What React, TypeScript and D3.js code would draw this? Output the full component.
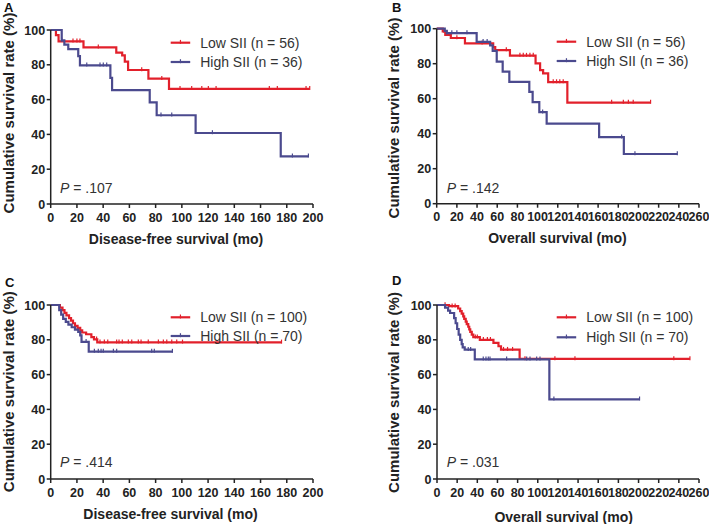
import React from 'react';
import * as d3 from 'd3';

// ---------- DATA ----------
const yTicks = [0, 20, 40, 60, 80, 100];
const xTicks200 = [0, 20, 40, 60, 80, 100, 120, 140, 160, 180, 200];
const xTicks260 = [0, 20, 40, 60, 80, 100, 120, 140, 160, 180, 200, 220, 240, 260];

// Panel A: disease-free survival, cohort 1
const aLowT = [4, 6, 25, 50, 54.5, 56.5, 59, 74.5, 90.2];
const aLowS = [97, 93.5, 90, 87, 85.4, 81.8, 77, 72, 66.2];
const aLowEnd = 197.5;
const aLowCens = [17, 20, 22.3, 36.3, 69.4, 84.7, 98.6, 107.5, 115.2, 120.2, 126.1, 166.7, 172.8, 194.7, 197.5];
const aHighT = [8.4, 10.4, 13.4, 21, 22.3, 45.5, 46.8, 75.5, 80.8, 110.5, 175.4];
const aHighS = [94, 91.6, 89, 85, 79.7, 72.5, 65.5, 58.4, 51, 40.8, 27.4];
const aHighEnd = 196.5;
const aHighCens = [8.4, 27.5, 37.6, 40.1, 42.7, 84.1, 92.3, 123.3, 184.3, 196.5];

// Panel B: overall survival, cohort 1
const bLowT = [6, 8.5, 14, 28, 56, 58, 72.6, 98, 102.5, 105.5, 110.5, 129.5];
const bLowS = [98.4, 96.5, 94.7, 91.6, 89.5, 87.8, 84.6, 80.2, 76.3, 74.5, 69.5, 57.8];
const bLowEnd = 212;
const bLowCens = [7, 12, 20, 45, 69, 82.5, 85.8, 89, 92.4, 95.7, 115.5, 118.8, 122, 125.4, 173.4, 185, 190, 194.8, 212];
const bHighT = [8, 10, 39.6, 53, 55.5, 59.5, 65.4, 72, 91.8, 95.1, 101.7, 109, 161, 185.5];
const bHighS = [98.8, 97.5, 92.5, 90.5, 87.3, 81.2, 75.5, 69.6, 63.9, 58.1, 52.3, 45.8, 38, 28.4];
const bHighEnd = 238.5;
const bHighCens = [10, 15, 20, 30, 46, 50, 105, 183.3, 196.5, 238.5];

// Panel C: disease-free survival, cohort 2
const cLowT = [7, 9, 10.5, 12, 14, 15.5, 17, 18.5, 20.5, 22.5, 24, 27, 31, 33, 35.5];
const cLowS = [98.5, 97, 95.5, 94, 92.5, 91, 89.5, 88, 86.8, 85.5, 84.2, 83.2, 81.5, 80.3, 78.5];
const cLowEnd = 176;
const cLowCens = [35, 37.6, 40.9, 43.5, 50.3, 52.1, 54.6, 59.2, 61.8, 66.8, 68.9, 74.4, 82.1, 85.9, 88.5, 92.3, 96.1, 100.5, 176];
const cHighT = [6.5, 8, 9.5, 11.5, 13.5, 16, 18.5, 21, 22.5, 23.5, 29];
const cHighS = [97, 94.5, 92, 90.3, 88.7, 87.2, 85.8, 84.5, 82.5, 78.8, 73.2];
const cHighEnd = 92.8;
const cHighCens = [27, 33.3, 36.3, 38.4, 40.1, 47.8, 50.3, 77, 79, 92.8];

// Panel D: overall survival, cohort 2
const dLowT = [12, 21, 23, 24.5, 26, 27, 28.5, 29.5, 31, 32, 33, 34.5, 36, 42.5, 56, 61, 63.5, 82];
const dLowS = [99.3, 98, 96.5, 95, 93.5, 92, 90.5, 89, 87.5, 86, 84.5, 83, 81.5, 80, 78.2, 76.3, 74.3, 69];
const dLowEnd = 251;
const dLowCens = [8, 15, 18, 38, 40, 46, 50, 53, 66, 70, 75, 87.3, 117, 136.9, 235, 251];
const dHighT = [8, 11, 13, 17, 18.5, 20, 21.5, 23, 24.5, 25.5, 27.5, 37.5, 111.5];
const dHighS = [98.5, 96.8, 95.4, 92.5, 89.5, 86.2, 83, 80, 77.5, 75.7, 74.3, 68.8, 45.8];
const dHighEnd = 201;
const dHighCens = [31, 33.4, 45.9, 48.6, 50.9, 52.6, 69.1, 89, 92.3, 98.9, 102.2, 116, 201];

const RED = '#e2202b';
const BLUE = '#4b4a8e';
const FONT = '"Liberation Sans", Arial, Helvetica, sans-serif';

type Curve = { t: number[]; s: number[]; end: number; cens: number[]; color: string };

type PanelProps = {
  letter: string;
  letterX: number;
  letterY: number;
  left: number;
  right: number;
  top: number;
  bottom: number;
  xTicks: number[];
  xTitle: string;
  xTitleX: number;
  xTitleY: number;
  yTitleX: number;
  yTitleY: number;
  legendX: number;
  legendY: [number, number];
  legendLabels: [string, string];
  pText: string;
  pX: number;
  pY: number;
  curves: Curve[];
};

function survivalAt(c: Curve, time: number) {
  let v = 100;
  for (let i = 0; i < c.t.length; i++) if (c.t[i] <= time) v = c.s[i];
  return v;
}

function Panel(p: PanelProps) {
  const xMax = p.xTicks[p.xTicks.length - 1];
  const x = d3.scaleLinear().domain([0, xMax]).range([p.left, p.right]);
  const y = d3.scaleLinear().domain([0, 100]).range([p.bottom, p.top]);
  const line = d3
    .line<[number, number]>()
    .x((d) => x(d[0]))
    .y((d) => y(d[1]))
    .curve(d3.curveStepAfter);

  return (
    <g>
      <text x={p.letterX} y={p.letterY} fontFamily={FONT} fontWeight="bold" fontSize={13} fill="#111">
        {p.letter}
      </text>
      {/* curves */}
      {p.curves.map((c, ci) => {
        const pts: [number, number][] = [[0, 100]];
        c.t.forEach((t, i) => pts.push([t, c.s[i]]));
        pts.push([c.end, c.s[c.s.length - 1]]);
        return (
          <g key={ci}>
            <path d={line(pts) || ''} fill="none" stroke={c.color} strokeWidth={2.2} />
            {c.cens.map((t, k) => {
              const v = survivalAt(c, t);
              return (
                <line
                  key={k}
                  x1={x(t)}
                  x2={x(t)}
                  y1={y(v) - 2.8}
                  y2={y(v) + 1.2}
                  stroke={c.color}
                  strokeWidth={1.2}
                />
              );
            })}
          </g>
        );
      })}
      {/* axes */}
      <line x1={p.left} x2={p.left} y1={p.top} y2={p.bottom} stroke="#222" strokeWidth={1.5} />
      <line x1={p.left} x2={p.right} y1={p.bottom} y2={p.bottom} stroke="#222" strokeWidth={1.5} />
      {yTicks.map((v) => (
        <g key={'y' + v}>
          <line x1={p.left - 4} x2={p.left} y1={y(v)} y2={y(v)} stroke="#222" strokeWidth={1.5} />
          <text
            x={p.left - 5.5}
            y={y(v)}
            dy="0.36em"
            textAnchor="end"
            fontFamily={FONT}
            fontWeight="bold"
            fontSize={12.5}
            fill="#222"
          >
            {v}
          </text>
        </g>
      ))}
      {p.xTicks.map((v) => (
        <g key={'x' + v}>
          <line x1={x(v)} x2={x(v)} y1={p.bottom} y2={p.bottom + 4} stroke="#222" strokeWidth={1.5} />
          <text
            x={x(v)}
            y={p.bottom + 17.5}
            textAnchor="middle"
            fontFamily={FONT}
            fontWeight="bold"
            fontSize={12.5}
            fill="#222"
          >
            {v}
          </text>
        </g>
      ))}
      <text
        x={p.xTitleX}
        y={p.xTitleY}
        textAnchor="middle"
        fontFamily={FONT}
        fontWeight="bold"
        fontSize={14}
        fill="#222"
      >
        {p.xTitle}
      </text>
      <text
        transform={`translate(${p.yTitleX},${p.yTitleY}) rotate(-90)`}
        textAnchor="middle"
        dy="0.35em"
        fontFamily={FONT}
        fontWeight="bold"
        fontSize={15}
        fill="#222"
      >
        Cumulative survival rate (%)
      </text>
      {/* legend */}
      {p.curves.map((c, i) => (
        <g key={'lg' + i}>
          <line
            x1={p.legendX}
            x2={p.legendX + 19.5}
            y1={p.legendY[i]}
            y2={p.legendY[i]}
            stroke={c.color}
            strokeWidth={2.2}
          />
          <line
            x1={p.legendX + 9.75}
            x2={p.legendX + 9.75}
            y1={p.legendY[i] - 2.8}
            y2={p.legendY[i] + 1.2}
            stroke={c.color}
            strokeWidth={1.2}
          />
          <text
            x={p.legendX + 29.5}
            y={p.legendY[i]}
            dy="0.36em"
            fontFamily={FONT}
            fontSize={14}
            fill="#333"
          >
            {p.legendLabels[i]}
          </text>
        </g>
      ))}
      <text x={p.pX} y={p.pY} fontFamily={FONT} fontSize={14} fill="#333">
        <tspan fontStyle="italic">P</tspan>
        {' = ' + p.pText}
      </text>
    </g>
  );
}

export default function App() {
  return (
    <svg
      width={709}
      height={524}
      viewBox="0 0 709 524"
      style={{ position: 'absolute', left: 0, top: 0, background: '#fff' }}
    >
      <rect x={0} y={0} width={709} height={524} fill="#fff" />
      <Panel
        letter="A"
        letterX={4}
        letterY={12}
        left={50.7}
        right={313}
        top={30}
        bottom={204}
        xTicks={xTicks200}
        xTitle="Disease-free survival (mo)"
        xTitleX={176}
        xTitleY={244}
        yTitleX={9}
        yTitleY={113}
        legendX={170.7}
        legendY={[42.7, 62]}
        legendLabels={['Low SII (n = 56)', 'High SII (n = 36)']}
        pText=".107"
        pX={60}
        pY={193.3}
        curves={[
          { t: aHighT, s: aHighS, end: aHighEnd, cens: aHighCens, color: BLUE },
          { t: aLowT, s: aLowS, end: aLowEnd, cens: aLowCens, color: RED },
        ].reverse() as Curve[]}
      />
      <Panel
        letter="B"
        letterX={392}
        letterY={12}
        left={436.7}
        right={699}
        top={28.7}
        bottom={203.7}
        xTicks={xTicks260}
        xTitle="Overall survival (mo)"
        xTitleX={557.5}
        xTitleY={242.7}
        yTitleX={394}
        yTitleY={118}
        legendX={556.7}
        legendY={[41.7, 61]}
        legendLabels={['Low SII (n = 56)', 'High SII (n = 36)']}
        pText=".142"
        pX={446.7}
        pY={192.7}
        curves={[
          { t: bLowT, s: bLowS, end: bLowEnd, cens: bLowCens, color: RED },
          { t: bHighT, s: bHighS, end: bHighEnd, cens: bHighCens, color: BLUE },
        ]}
      />
      <Panel
        letter="C"
        letterX={5}
        letterY={287}
        left={50.7}
        right={313}
        top={305}
        bottom={479}
        xTicks={xTicks200}
        xTitle="Disease-free survival (mo)"
        xTitleX={170.5}
        xTitleY={519}
        yTitleX={8.5}
        yTitleY={391.7}
        legendX={170.7}
        legendY={[317.3, 336]}
        legendLabels={['Low SII (n = 100)', 'High SII (n = 70)']}
        pText=".414"
        pX={60}
        pY={467.3}
        curves={[
          { t: cLowT, s: cLowS, end: cLowEnd, cens: cLowCens, color: RED },
          { t: cHighT, s: cHighS, end: cHighEnd, cens: cHighCens, color: BLUE },
        ]}
      />
      <Panel
        letter="D"
        letterX={392}
        letterY={285}
        left={437}
        right={699}
        top={305}
        bottom={479}
        xTicks={xTicks260}
        xTitle="Overall survival (mo)"
        xTitleX={563.7}
        xTitleY={521.7}
        yTitleX={394}
        yTitleY={392.5}
        legendX={556.7}
        legendY={[317.3, 337.3]}
        legendLabels={['Low SII (n = 100)', 'High SII (n = 70)']}
        pText=".031"
        pX={446.7}
        pY={467.3}
        curves={[
          { t: dLowT, s: dLowS, end: dLowEnd, cens: dLowCens, color: RED },
          { t: dHighT, s: dHighS, end: dHighEnd, cens: dHighCens, color: BLUE },
        ]}
      />
    </svg>
  );
}
